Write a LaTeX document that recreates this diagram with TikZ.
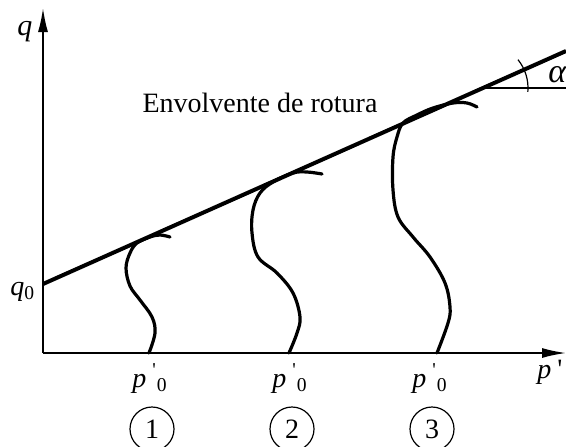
\documentclass[tikz,border=0pt]{standalone}
\usepackage{fontspec}
\setmainfont{Liberation Serif}
\usetikzlibrary{arrows.meta}

\newcommand{\pzero}{\textit{p}\hspace{3pt}\textsuperscript{\textquotesingle}\textsubscript{0}}

\begin{document}
\begin{tikzpicture}[
  x=0.5pt, y=0.5pt,
  every node/.style={font=\fontsize{14}{16}\selectfont},
  axis/.style={line width=0.85pt, -{Latex[length=12pt, width=5pt]}},
  envelope/.style={line width=2pt},
  stresspath/.style={line width=1.6pt, line cap=round},
  thinline/.style={line width=0.6pt},
  sample/.style={circle, draw, line width=0.6pt, minimum size=22pt, inner sep=0pt},
  lbl/.style={anchor=base west, inner sep=0pt}
]
\useasboundingbox (0,0) rectangle (566,446);

% ---- Axes ----
\coordinate (O) at (43,93);
\coordinate (ytop) at (43,438);
\coordinate (xend) at (566,93);
\draw[axis] (O) -- (ytop);
\draw[axis] (O) -- (xend);

\node (q) at (25,414) {\fontsize{15}{17}\selectfont\textit{q}};
\node[lbl] (q0) at (10,151) {\textit{q}\textsubscript{0}};
\node[lbl] (p) at (537,68) {\textit{p}\hspace{3pt}\textquotesingle};

% ---- Failure envelope ----
\coordinate (envA) at (43,162);
\coordinate (envB) at (566,395);
\draw[envelope] (envA) -- (envB);
\node[anchor=base] (envtext) at (260,334) {Envolvente de rotura};

% ---- Angle alpha ----
\coordinate (vtx) at (483,358);
\coordinate (hend) at (566,358);
\draw[thinline] (vtx) -- (hend);
\draw[thinline] ([shift={(-5:45)}]vtx) arc[start angle=-5, end angle=39, radius=45];
\node[anchor=west, inner sep=0pt] (alpha) at (548,371) {\fontsize{17}{19}\selectfont\textit{α}};

% ---- Stress paths ----
\draw[stresspath] plot[smooth, tension=0.6] coordinates {
  (149,93) (155,113) (152,129) (140,146) (130,160) (126,178)
  (130,193) (137,203) (150,209) (160,211) (170,209)};
\draw[stresspath] plot[smooth, tension=0.6] coordinates {
  (289,93) (297,113) (300,129) (293,153) (277,173) (258,189)
  (252,213) (253,236) (260,253) (273,264) (293,273) (307,274) (322,272)};
\draw[stresspath] plot[smooth, tension=0.6] coordinates {
  (437,93) (448,123) (450,139) (445,163) (430,189) (413,209)
  (398,229) (393,256) (393,289) (397,309) (403,323) (417,331)
  (433,338) (453,343) (467,343) (477,339)};

% ---- Initial pressures ----
\node[lbl] (p1) at (132,59) {\pzero};
\node[lbl] (p2) at (272,59) {\pzero};
\node[lbl] (p3) at (412,59) {\pzero};

% ---- Sample numbers ----
\node[sample] (s1) at (152,17) {1};
\node[sample] (s2) at (292,17) {2};
\node[sample] (s3) at (432,17) {3};

\end{tikzpicture}
\end{document}
